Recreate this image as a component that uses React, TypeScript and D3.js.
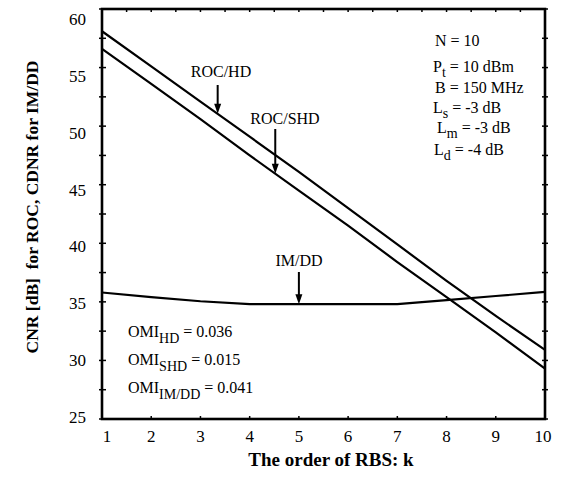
import React from "react";
import * as d3 from "d3";

const orders = [1, 2, 3, 4, 5, 6, 7, 8, 9, 10];
const rocHD = [58.1, 55.1, 52.1, 49.1, 46.1, 43.0, 39.9, 36.8, 33.8, 30.9];
const rocSHD = [56.6, 53.6, 50.6, 47.5, 44.5, 41.5, 38.4, 35.4, 32.4, 29.3];
const imDD = [35.8, 35.4, 35.05, 34.8, 34.8, 34.8, 34.8, 35.15, 35.5, 35.85];
const yTickValues = [25, 30, 35, 40, 45, 50, 55, 60];
const xTickValues = [1, 2, 3, 4, 5, 6, 7, 8, 9, 10];

const W = 561;
const H = 477;
const L = 102, R = 545, T = 9, B = 419;

export default function App() {
  const x = d3.scaleLinear().domain([1, 10]).range([L, R]);
  const y = d3.scaleLinear().domain([25, 60]).range([B, T]);
  // labels in the scan sit on a slightly compressed scale
  const yLab = d3.scaleLinear().domain([25, 60]).range([417, 19]);
  const line = d3
    .line<number>()
    .x((_, i) => x(orders[i]))
    .y((d) => y(d));

  const minorY = d3.range(25, 60.01, 2.5);
  const topX = d3.range(1, 10.01, 0.5);
  const font = "'Liberation Serif', 'Times New Roman', serif";

  const arrow = (x0: number, y0: number, y1: number) => (
    <g>
      <line x1={x0} y1={y0} x2={x0} y2={y1 - 8} stroke="#000" strokeWidth={2} />
      <path d={`M${x0 - 3.5},${y1 - 10} L${x0 + 3.5},${y1 - 10} L${x0},${y1} Z`} fill="#000" />
    </g>
  );

  const k1 = 3.35, k2 = 4.52, k3 = 5;
  const hdAt = rocHD[2] + (rocHD[3] - rocHD[2]) * (k1 - 3);
  const shdAt = rocSHD[3] + (rocSHD[4] - rocSHD[3]) * (k2 - 4);

  return (
    <svg width={W} height={H} style={{ position: "absolute", left: 0, top: 0, background: "#fff" }} fontFamily={font}>
      <rect width={W} height={H} fill="#fff" />
      {/* ticks */}
      {minorY.map((v) => (
        <g key={"yt" + v}>
          <line x1={L - 3} x2={L + 4} y1={y(v)} y2={y(v)} stroke="#000" strokeWidth={1.5} />
          <line x1={R - 3} x2={R + 3} y1={y(v)} y2={y(v)} stroke="#000" strokeWidth={1.5} />
        </g>
      ))}
      {topX.map((v) => (
        <line key={"tx" + v} x1={x(v)} x2={x(v)} y1={T} y2={T + 3} stroke="#000" strokeWidth={1.5} />
      ))}
      {xTickValues.map((v) => (
        <line key={"bx" + v} x1={x(v)} x2={x(v)} y1={B - 3} y2={B} stroke="#000" strokeWidth={1.5} />
      ))}
      {/* frame */}
      <rect x={L} y={T} width={R - L} height={B - T} fill="none" stroke="#000" strokeWidth={2.6} />
      {/* tick labels */}
      {yTickValues.map((v) => (
        <text key={"yl" + v} x={86} y={yLab(v)} dy="0.35em" textAnchor="end" fontSize={17}>
          {v}
        </text>
      ))}
      {xTickValues.map((v, i) => (
        <text key={"xl" + v} x={x(v) + (i === 0 ? 5 : i === 9 ? -2 : 0)} y={442} textAnchor="middle" fontSize={17}>
          {v}
        </text>
      ))}
      {/* data */}
      <path d={line(rocHD) || ""} fill="none" stroke="#000" strokeWidth={2.2} />
      <path d={line(rocSHD) || ""} fill="none" stroke="#000" strokeWidth={2.2} />
      <path d={line(imDD) || ""} fill="none" stroke="#000" strokeWidth={2.2} />
      {/* arrows & labels */}
      {arrow(x(k1), 85, y(hdAt))}
      <text x={221} y={77} textAnchor="middle" fontSize={16}>ROC/HD</text>
      {arrow(x(k2), 129, y(shdAt))}
      <text x={285} y={124} textAnchor="middle" fontSize={16}>ROC/SHD</text>
      {arrow(x(k3), 272, y(imDD[4]))}
      <text x={299} y={266} textAnchor="middle" fontSize={16}>IM/DD</text>
      {/* parameters */}
      <g fontSize={16}>
        <text x={435} y={46}>N = 10</text>
        <text x={433} y={72}>P<tspan dy={5} fontSize={14}>t</tspan><tspan dy={-5}> = 10 dBm</tspan></text>
        <text x={435} y={93}>B = 150 MHz</text>
        <text x={433} y={113}>L<tspan dy={5} fontSize={14}>s</tspan><tspan dy={-5}> = -3 dB</tspan></text>
        <text x={437} y={133}>L<tspan dy={5} fontSize={14}>m</tspan><tspan dy={-5}> = -3 dB</tspan></text>
        <text x={434} y={155}>L<tspan dy={5} fontSize={14}>d</tspan><tspan dy={-5}> = -4 dB</tspan></text>
      </g>
      <g fontSize={16}>
        <text x={128} y={337}>OMI<tspan dy={6} fontSize={14}>HD</tspan><tspan dy={-6}> = 0.036</tspan></text>
        <text x={128} y={365}>OMI<tspan dy={6} fontSize={14}>SHD</tspan><tspan dy={-6}> = 0.015</tspan></text>
        <text x={128} y={393}>OMI<tspan dy={6} fontSize={14}>IM/DD</tspan><tspan dy={-6}> = 0.041</tspan></text>
      </g>
      {/* axis titles */}
      <text x={331} y={466} textAnchor="middle" fontSize={19} fontWeight="bold">The order of RBS: k</text>
      <text transform={`translate(38,207) rotate(-90)`} textAnchor="middle" fontSize={17.5} fontWeight="bold" style={{ whiteSpace: "pre" }}>
        {"CNR [dB]  for ROC, CDNR for IM/DD"}
      </text>
    </svg>
  );
}
